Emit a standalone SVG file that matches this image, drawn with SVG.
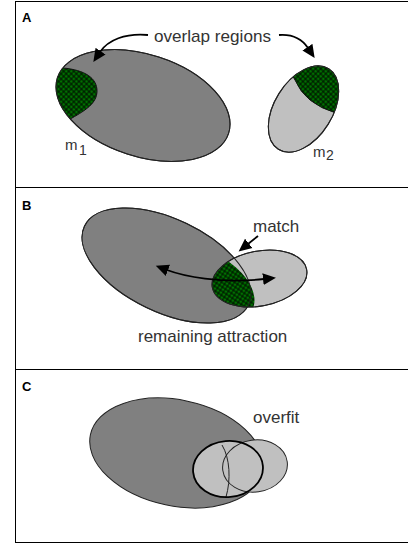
<svg xmlns="http://www.w3.org/2000/svg" width="408" height="544" viewBox="0 0 408 544">
<style>
.frame{fill:none;stroke:#000;stroke-width:1}
.dark{fill:#808080;stroke:#222;stroke-width:1}
.light{fill:#c0c0c0;stroke:#222;stroke-width:1}
.outline{fill:none;stroke:#222;stroke-width:1}
.thick{fill:none;stroke:#000;stroke-width:1.8}
.hatch{fill:url(#hatch);stroke:#111;stroke-width:1}
.lbl{font-family:"Liberation Sans",Arial,sans-serif;font-size:17px;fill:#333}
.sub{font-family:"Liberation Sans",Arial,sans-serif;font-size:14px;fill:#333}
.panel{font-family:"Liberation Sans",Arial,sans-serif;font-size:13px;font-weight:bold;fill:#000}
.arrow{fill:none;stroke:#000;stroke-width:1.8}
</style>
<defs>
<pattern id="hatch" width="3.6" height="3.6" patternUnits="userSpaceOnUse" patternTransform="rotate(45)">
<rect width="3.6" height="3.6" fill="#007000"/>
<path d="M0,1.8 H3.6 M1.8,0 V3.6" stroke="#000" stroke-width="0.8"/>
</pattern>
<marker id="ah" markerWidth="14" markerHeight="14" refX="1" refY="7" orient="auto-start-reverse" markerUnits="userSpaceOnUse">
<path d="M0,1 L13,7 L0,13 z" fill="#000"/>
</marker>
<clipPath id="clipM1"><ellipse cx="143" cy="105.5" rx="90" ry="51" transform="rotate(18 143 105.5)"/></clipPath>
<clipPath id="clipM2"><ellipse cx="303.5" cy="109" rx="47.5" ry="29" transform="rotate(-58 303.5 109)"/></clipPath>
<clipPath id="clipBdark"><ellipse cx="166.5" cy="265.5" rx="91" ry="46.5" transform="rotate(25.6 166.5 265.5)"/></clipPath>
</defs>

<g id="frame">
<rect class="frame" x="15.5" y="1.5" width="420" height="541"/>
<line class="frame" x1="15" y1="187.5" x2="408" y2="187.5"/>
<line class="frame" x1="15" y1="369.5" x2="408" y2="369.5"/>
<text class="panel" x="22" y="22">A</text>
<text class="panel" x="22" y="210">B</text>
<text class="panel" x="22" y="391">C</text>
</g>

<g id="m1">
<ellipse class="dark" cx="143" cy="105.5" rx="90" ry="51" transform="rotate(18 143 105.5)"/>
<path class="hatch" clip-path="url(#clipM1)" d="M40,55 L63,68 C85,70 97,78 97,91 C97,103 86,110 72,118 L40,130 Z"/>
<ellipse class="outline" cx="143" cy="105.5" rx="90" ry="51" transform="rotate(18 143 105.5)"/>
<text class="lbl" x="65" y="150" style="font-size:15px">m</text>
<text class="sub" x="79" y="155">1</text>
</g>

<g id="m2">
<ellipse class="light" cx="303.5" cy="109" rx="47.5" ry="29" transform="rotate(-58 303.5 109)"/>
<path class="hatch" clip-path="url(#clipM2)" d="M288,68 L295,80 Q305,104 336,113 L360,115 L360,50 Z"/>
<ellipse class="outline" cx="303.5" cy="109" rx="47.5" ry="29" transform="rotate(-58 303.5 109)"/>
<text class="lbl" x="313" y="157" style="font-size:15px">m</text>
<text class="sub" x="326" y="160">2</text>
</g>

<g id="b-model">
<ellipse class="dark" cx="166.5" cy="265.5" rx="91" ry="46.5" transform="rotate(25.6 166.5 265.5)"/>
</g>
<g id="b-data">
<ellipse class="light" cx="259.5" cy="278.5" rx="48" ry="27.5" transform="rotate(-10.8 259.5 278.5)"/>
</g>
<g id="b-match">
<ellipse fill="url(#hatch)" clip-path="url(#clipBdark)" cx="259.5" cy="278.5" rx="48" ry="27.5" transform="rotate(-10.8 259.5 278.5)"/>
<ellipse class="outline" cx="166.5" cy="265.5" rx="91" ry="46.5" transform="rotate(25.6 166.5 265.5)"/>
<ellipse class="outline" cx="259.5" cy="278.5" rx="48" ry="27.5" transform="rotate(-10.8 259.5 278.5)"/>
</g>

<g id="c-model">
<ellipse class="dark" cx="176.5" cy="453" rx="88" ry="53" transform="rotate(12 176.5 453)"/>
</g>
<g id="c-overfit">
<ellipse fill="#c0c0c0" cx="228" cy="469" rx="35" ry="28" transform="rotate(-5 228 469)"/>
<ellipse fill="#c0c0c0" cx="255" cy="466" rx="32.5" ry="26" transform="rotate(-8 255 466)"/>
<ellipse class="outline" stroke="#333" cx="255" cy="466" rx="32.5" ry="26" transform="rotate(-8 255 466)"/>
<path class="outline" d="M222,445 C230,458 231,480 226,497"/>
<ellipse class="thick" cx="228" cy="469" rx="35" ry="28" transform="rotate(-5 228 469)"/>
<text class="lbl" x="253" y="423">overfit</text>
</g>

<g id="connectors">
<path class="arrow" marker-end="url(#ah)" d="M148,35 C125,33 108,40 100,52"/>
<path class="arrow" marker-end="url(#ah)" d="M279,35 C292,34 302,39 308,48"/>
<text class="lbl" x="154" y="41.5" textLength="117" lengthAdjust="spacingAndGlyphs">overlap regions</text>
<path class="arrow" marker-end="url(#ah)" d="M258,236 L248,244"/>
<text class="lbl" x="253" y="231.5">match</text>
<path class="arrow" marker-start="url(#ah)" marker-end="url(#ah)" d="M167,270 C183,276 220,284 264,279"/>
<text class="lbl" x="138" y="341.5">remaining attraction</text>
</g>
</svg>
